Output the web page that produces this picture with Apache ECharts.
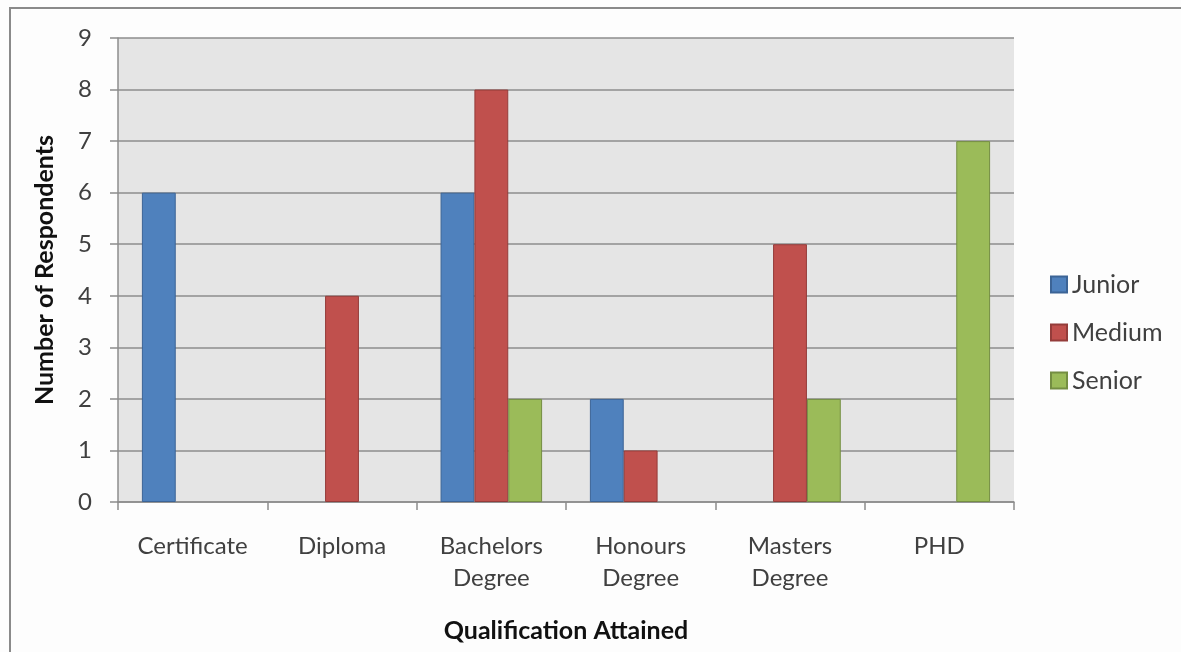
<html>
<head>
<meta charset="utf-8">
<script src="https://cdn.jsdelivr.net/npm/echarts@6/dist/echarts.min.js"></script>
<style>
html, body { margin: 0; padding: 0; background: #fdfdfd; }
#frame { position: absolute; left: 9px; top: 7px; width: 1180px; height: 660px; border-left: 2px solid #8a8a8a; border-top: 2px solid #8a8a8a; }
#chart { position: absolute; left: 0; top: 0; width: 1181px; height: 652px; }
</style>
</head>
<body>
<div id="frame"></div>
<div id="chart"></div>
<script>
// data
var categories = ['Certificate', 'Diploma', 'Bachelors\nDegree', 'Honours\nDegree', 'Masters\nDegree', 'PHD'];
var junior = [6, 0, 6, 2, 0, 0];
var medium = [0, 4, 8, 1, 5, 0];
var senior = [0, 0, 2, 0, 2, 7];

var font = 'Lato';
var textCol = '#404040';
var lineCol = '#8c8c8c';

// zero values draw no bar at all (no border sliver)
function bar(name, data, color, border) {
	return {
		name: name,
		type: 'bar',
		data: data.map(function(v) { return v === 0 ? '-' : v; }),
		barGap: '0%',
		barCategoryGap: '32%',
		itemStyle: { color: color, borderColor: border, borderWidth: 1 }
	};
}

var chart = echarts.init(document.getElementById('chart'));
chart.setOption({
	animation: false,
	backgroundColor: 'transparent',
	textStyle: { fontFamily: font },
	grid: {
		left: 118, top: 38, right: 167, bottom: 150,
		show: true, backgroundColor: '#e5e5e5', borderWidth: 0
	},
	legend: {
		orient: 'vertical',
		left: 1045, top: 267,
		itemWidth: 16, itemHeight: 16, itemGap: 23,
		icon: 'rect',
		textStyle: { fontFamily: font, fontSize: 25, color: textCol },
		data: ['Junior', 'Medium', 'Senior']
	},
	xAxis: {
		type: 'category',
		data: categories,
		name: 'Qualification Attained',
		nameLocation: 'middle',
		nameGap: 116,
		nameTextStyle: { fontFamily: font, fontSize: 25, fontWeight: 'bold', color: '#111' },
		axisLine: { lineStyle: { color: lineCol, width: 1.5 } },
		axisTick: { show: true, length: 8, lineStyle: { color: lineCol, width: 1.5 } },
		axisLabel: { fontFamily: font, fontSize: 24, color: textCol, margin: 28, lineHeight: 32 }
	},
	yAxis: {
		type: 'value',
		min: 0, max: 9, interval: 1,
		name: 'Number of Respondents',
		nameLocation: 'middle',
		nameGap: 61,
		nameTextStyle: { fontFamily: font, fontSize: 25, fontWeight: 'bold', color: '#111' },
		axisLine: { show: true, lineStyle: { color: lineCol, width: 1.5 } },
		axisTick: { show: true, length: 8, lineStyle: { color: lineCol, width: 1.5 } },
		axisLabel: { fontFamily: font, fontSize: 24, color: textCol, margin: 26 },
		splitLine: { lineStyle: { color: lineCol, width: 1.5 } }
	},
	series: [
		bar('Junior', junior, '#4f81bd', '#3c6496'),
		bar('Medium', medium, '#c0504d', '#943c3a'),
		bar('Senior', senior, '#9bbb59', '#748e42')
	]
});
</script>
</body>
</html>
